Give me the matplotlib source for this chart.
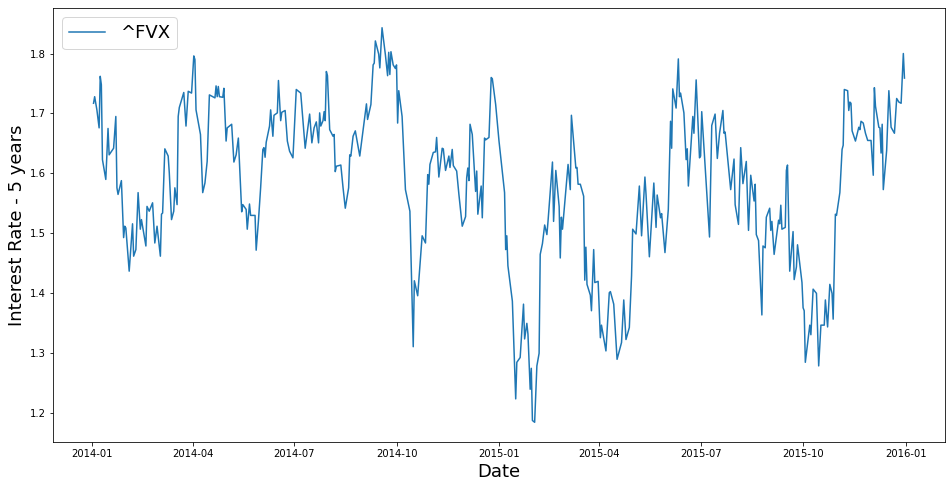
import pandas as pd
import matplotlib
matplotlib.use('Agg')
import matplotlib.pyplot as plt
import matplotlib.dates as mdates

# ^FVX closing values, days counted from 2014-01-01
days = [1, 2, 4, 6, 7, 8, 9, 12, 14, 15, 19, 21, 22, 23, 26, 28, 29, 30, 33, 36,
        37, 39, 41, 43, 44, 48, 49, 51, 54, 56, 58, 61, 62, 63, 65, 68, 69, 71, 73, 74,
        76, 77, 78, 82, 84, 86, 89, 91, 92, 93, 97, 99, 101, 103, 105, 110, 111, 112, 113, 114,
        117, 118, 120, 121, 125, 127, 129, 131, 134, 135, 138, 139, 141, 142, 146, 147, 149, 151, 153, 154,
        155, 156, 159, 160, 162, 163, 166, 167, 169, 170, 173, 175, 177, 180, 183, 187, 191, 192, 195, 197,
        199, 201, 203, 204, 205, 207, 208, 209, 210, 211, 213, 216, 217, 218, 219, 223, 225, 227, 230, 231,
        232, 234, 236, 239, 240, 244, 246, 247, 250, 252, 253, 254, 257, 258, 260, 263, 265, 266, 267, 268,
        270, 272, 273, 274, 275, 278, 281, 285, 288, 289, 292, 296, 299, 301, 302, 303, 306, 308, 309, 311,
        314, 315, 317, 320, 321, 323, 324, 327, 329, 332, 335, 336, 337, 338, 339, 341, 344, 345, 346, 349,
        350, 352, 353, 356, 358, 359, 362, 365, 370, 371, 372, 373, 377, 380, 381, 384, 387, 388, 390, 391,
        393, 394, 395, 397, 399, 401, 402, 404, 406, 408, 409, 413, 414, 416, 419, 420, 421, 422, 427, 429,
        430, 432, 434, 435, 436, 438, 441, 442, 443, 444, 447, 448, 450, 451, 454, 456, 457, 461, 464, 465,
        468, 471, 475, 477, 479, 482, 484, 485, 488, 491, 493, 496, 497, 500, 504, 506, 507, 510, 511, 514,
        517, 519, 520, 521, 524, 526, 527, 528, 531, 533, 534, 535, 539, 540, 542, 545, 546, 547, 554, 556,
        559, 561, 563, 566, 567, 568, 573, 576, 577, 580, 582, 584, 587, 589, 591, 594, 595, 596, 598, 601,
        602, 604, 605, 608, 609, 610, 612, 616, 617, 618, 619, 622, 623, 624, 626, 629, 630, 632, 633, 637,
        638, 639, 640, 644, 645, 647, 650, 652, 654, 657, 658, 660, 662, 664, 665, 667, 668, 671, 673, 674,
        675, 678, 679, 680, 681, 682, 685, 688, 689, 690, 692, 694, 696, 699, 701, 702, 703, 706, 707, 708,
        709, 710, 713, 715, 717, 720, 722, 724, 726, 728, 729]

fvx = [1.717, 1.728, 1.706, 1.676, 1.762, 1.748, 1.623, 1.590, 1.675, 1.631, 1.642, 1.695, 1.576, 1.565, 1.588, 1.493, 1.512, 1.509, 1.437, 1.516,
       1.462, 1.473, 1.568, 1.507, 1.523, 1.479, 1.545, 1.537, 1.551, 1.484, 1.512, 1.462, 1.532, 1.534, 1.641, 1.629, 1.601, 1.523, 1.537, 1.576,
       1.548, 1.695, 1.710, 1.735, 1.679, 1.737, 1.734, 1.796, 1.790, 1.706, 1.665, 1.568, 1.584, 1.620, 1.731, 1.726, 1.746, 1.728, 1.745, 1.728,
       1.727, 1.742, 1.654, 1.676, 1.682, 1.619, 1.631, 1.659, 1.536, 1.548, 1.540, 1.507, 1.549, 1.530, 1.530, 1.472, 1.520, 1.576, 1.640, 1.643,
       1.627, 1.652, 1.679, 1.706, 1.662, 1.697, 1.701, 1.755, 1.688, 1.702, 1.705, 1.654, 1.637, 1.626, 1.740, 1.734, 1.642, 1.656, 1.699, 1.651,
       1.676, 1.686, 1.651, 1.701, 1.679, 1.688, 1.703, 1.688, 1.770, 1.763, 1.673, 1.662, 1.665, 1.603, 1.612, 1.614, 1.576, 1.542, 1.576, 1.631,
       1.629, 1.662, 1.671, 1.640, 1.629, 1.687, 1.716, 1.690, 1.715, 1.781, 1.784, 1.821, 1.799, 1.776, 1.843, 1.798, 1.763, 1.802, 1.765, 1.803,
       1.781, 1.775, 1.781, 1.684, 1.738, 1.695, 1.573, 1.537, 1.311, 1.421, 1.396, 1.496, 1.484, 1.598, 1.582, 1.615, 1.635, 1.636, 1.660, 1.594,
       1.642, 1.641, 1.605, 1.629, 1.610, 1.640, 1.613, 1.604, 1.565, 1.512, 1.528, 1.593, 1.609, 1.588, 1.682, 1.665, 1.570, 1.604, 1.532, 1.579,
       1.526, 1.659, 1.656, 1.660, 1.760, 1.758, 1.715, 1.654, 1.568, 1.473, 1.496, 1.446, 1.387, 1.224, 1.285, 1.293, 1.382, 1.324, 1.350, 1.332,
       1.240, 1.275, 1.188, 1.185, 1.279, 1.300, 1.465, 1.483, 1.514, 1.498, 1.520, 1.619, 1.520, 1.605, 1.545, 1.459, 1.527, 1.507, 1.615, 1.573,
       1.697, 1.654, 1.609, 1.610, 1.582, 1.582, 1.562, 1.422, 1.477, 1.415, 1.397, 1.371, 1.473, 1.418, 1.420, 1.326, 1.347, 1.304, 1.401, 1.403,
       1.382, 1.290, 1.318, 1.389, 1.323, 1.343, 1.429, 1.507, 1.499, 1.579, 1.496, 1.594, 1.565, 1.461, 1.584, 1.510, 1.564, 1.526, 1.533, 1.468,
       1.540, 1.687, 1.642, 1.741, 1.709, 1.791, 1.728, 1.734, 1.701, 1.623, 1.641, 1.579, 1.695, 1.667, 1.756, 1.626, 1.629, 1.703, 1.494, 1.680,
       1.699, 1.625, 1.667, 1.705, 1.667, 1.669, 1.573, 1.624, 1.548, 1.515, 1.643, 1.583, 1.620, 1.505, 1.597, 1.554, 1.582, 1.498, 1.488, 1.364,
       1.479, 1.476, 1.527, 1.542, 1.505, 1.520, 1.465, 1.522, 1.516, 1.547, 1.507, 1.510, 1.605, 1.614, 1.437, 1.503, 1.423, 1.444, 1.481, 1.418,
       1.376, 1.371, 1.285, 1.347, 1.331, 1.407, 1.400, 1.279, 1.347, 1.347, 1.389, 1.344, 1.415, 1.400, 1.357, 1.532, 1.530, 1.568, 1.640, 1.647,
       1.740, 1.738, 1.705, 1.719, 1.717, 1.671, 1.654, 1.677, 1.673, 1.687, 1.684, 1.667, 1.655, 1.655, 1.597, 1.743, 1.712, 1.677, 1.676, 1.634,
       1.682, 1.573, 1.638, 1.738, 1.677, 1.667, 1.725, 1.719, 1.717, 1.800, 1.759]

dates = pd.to_datetime('2014-01-01') + pd.to_timedelta(days, unit='D')
df = pd.DataFrame({'Date': dates, '^FVX': fvx})

fig = plt.figure(figsize=(952 / 72, 488 / 72), dpi=72)
ax = fig.add_axes([53 / 952, 1 - 442 / 488, 892 / 952, 434 / 488])
ax.plot(df['Date'], df['^FVX'], label='^FVX')

ax.xaxis.set_major_locator(mdates.MonthLocator(bymonth=[1, 4, 7, 10]))
ax.xaxis.set_major_formatter(mdates.DateFormatter('%Y-%m'))
ax.set_yticks([1.2, 1.3, 1.4, 1.5, 1.6, 1.7, 1.8])

ax.set_xlabel('Date', fontsize=18)
ax.set_ylabel('Interest Rate - 5 years', fontsize=18)
ax.legend(loc='upper left', fontsize=18)

fig.savefig('out.png', dpi=72)
